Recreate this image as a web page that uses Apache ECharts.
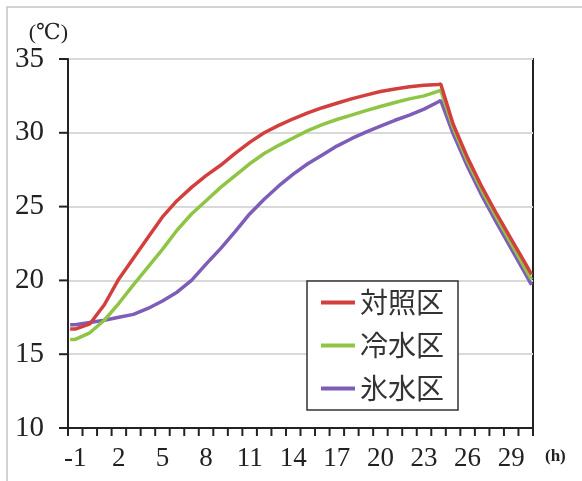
<!DOCTYPE html>
<html>
<head>
<meta charset="utf-8">
<title>水温の推移</title>
<script src="https://cdn.jsdelivr.net/npm/echarts@6/dist/echarts.min.js"></script>
<style>
  html, body { margin: 0; padding: 0; background: #fff; }
  #chart { width: 582px; height: 481px; }
</style>
</head>
<body>
<div id="chart"></div>
<script>
// カテゴリ（1時間刻み、-1〜30h）
const hourLabels = []
for (let h = -1; h <= 30; h++) hourLabels.push(String(h))
// 目盛線の位置（各時間の境界）
const xTickValues = []
for (let h = -1; h <= 31; h++) xTickValues.push(h - 0.5)
const yTickValues = [10, 15, 20, 25, 30, 35]

// 測定時刻 (h)
const hours = [-1.35, -1, 0, 1, 2, 3, 4, 5, 6, 7, 8, 9, 10, 11, 12, 13, 14, 15, 16, 17, 18, 19, 20, 21, 22, 23, 24, 24.15,
  25, 26, 27, 28, 29, 30, 30.4]

// 対照区
const controlTemp = [16.7, 16.7, 17.05, 18.35, 20.1, 21.5, 22.9, 24.3, 25.4, 26.3, 27.1, 27.8, 28.6, 29.35, 30.0, 30.5,
  30.95, 31.35, 31.7, 32.0, 32.3, 32.55, 32.8, 32.97, 33.12, 33.22, 33.28, 33.3,
  30.6, 28.3, 26.3, 24.5, 22.8, 21.1, 20.4]
// 冷水区
const coldTemp = [16.0, 16.0, 16.45, 17.3, 18.45, 19.7, 20.9, 22.1, 23.4, 24.5, 25.4, 26.3, 27.1, 27.9, 28.6, 29.15,
  29.65, 30.15, 30.55, 30.9, 31.2, 31.5, 31.78, 32.05, 32.3, 32.5, 32.82, 32.9,
  30.35, 28.05, 26.05, 24.25, 22.5, 20.75, 20.05]
// 氷水区
const iceTemp = [17.0, 17.0, 17.15, 17.3, 17.5, 17.7, 18.1, 18.6, 19.2, 20.0, 21.1, 22.15, 23.3, 24.5, 25.5, 26.4,
  27.2, 27.9, 28.5, 29.1, 29.6, 30.05, 30.45, 30.85, 31.2, 31.6, 32.1, 32.2,
  29.95, 27.7, 25.7, 23.9, 22.15, 20.4, 19.7]

const seriesNames = ['対照区', '冷水区', '氷水区']
const seriesColors = ['#d23f3c', '#8fc545', '#7d5db8']

function pairs(values) {
  return hours.map((h, i) => [h, values[i]])
}

const serifFont = '"Liberation Serif", "DejaVu Serif", serif'
const axisColor = '#222'
const myChart = echarts.init(document.getElementById('chart'))

// 目盛線（軸の外側に描く）
function tickSeries(values, isX) {
  return {
    type: 'custom',
    xAxisIndex: 1,
    yAxisIndex: 0,
    silent: true,
    clip: false,
    z: 5,
    data: values.map((v) => [v]),
    renderItem: function (params, api) {
      const v = api.value(0)
      const p = isX ? api.coord([v, 10]) : api.coord([-1.5, v])
      return {
        type: 'line',
        shape: isX
          ? { x1: p[0], y1: p[1], x2: p[0], y2: p[1] + 8 }
          : { x1: p[0] - 9, y1: p[1], x2: p[0], y2: p[1] },
        style: { stroke: axisColor, lineWidth: 2 }
      }
    }
  }
}

const lineSeries = [controlTemp, coldTemp, iceTemp].map((vals, i) => ({
  name: seriesNames[i],
  type: 'line',
  xAxisIndex: 1,
  yAxisIndex: 0,
  data: pairs(vals),
  symbol: 'none',
  z: 3 - i,
  lineStyle: { color: seriesColors[i], width: 3.5 },
  itemStyle: { color: seriesColors[i] }
}))

const option = {
  animation: false,
  backgroundColor: '#fff',
  graphic: [
    {
      type: 'rect',
      z: -10,
      shape: { x: 7, y: 7, width: 620, height: 520 },
      style: { fill: null, stroke: '#c4c4c4', lineWidth: 1.5 },
      silent: true
    }
  ],
  grid: {
    left: 68,
    top: 59,
    right: 49,
    bottom: 53,
    show: true,
    borderColor: axisColor,
    borderWidth: 2
  },
  legend: {
    orient: 'vertical',
    left: 307,
    top: 281,
    padding: [6, 14, 6, 14],
    itemWidth: 34,
    itemHeight: 4,
    itemGap: 12,
    borderColor: '#333',
    borderWidth: 1.5,
    backgroundColor: '#fff',
    textStyle: {
      fontFamily: '"Noto Sans CJK JP", sans-serif',
      fontSize: 28,
      lineHeight: 31,
      color: '#333'
    },
    data: seriesNames.map((n) => ({ name: n, icon: 'rect' }))
  },
  xAxis: [
    {
      type: 'category',
      position: 'bottom',
      data: hourLabels,
      boundaryGap: true,
      name: '(h)',
      nameLocation: 'end',
      nameGap: 12,
      nameTextStyle: {
        fontFamily: serifFont,
        fontSize: 17,
        fontWeight: 'bold',
        color: axisColor,
        verticalAlign: 'top',
        padding: [20, 0, 0, 0]
      },
      axisLine: { onZero: false, lineStyle: { color: axisColor, width: 2 } },
      axisTick: { show: false },
      axisLabel: {
        interval: 2,
        margin: 17,
        fontFamily: serifFont,
        fontSize: 27,
        color: axisColor
      },
      splitLine: { show: false }
    },
    {
      // データ用（時刻の値軸）
      type: 'value',
      position: 'top',
      min: -1.5,
      max: 30.5,
      show: false
    }
  ],
  yAxis: {
    type: 'value',
    min: 10,
    max: 35,
    interval: 5,
    name: '(℃)',
    nameLocation: 'end',
    nameGap: 12,
    nameTextStyle: {
      fontFamily: serifFont,
      fontSize: 22,
      color: axisColor,
      align: 'right'
    },
    axisLine: { show: true, onZero: false, lineStyle: { color: axisColor, width: 2 } },
    axisTick: { show: false },
    axisLabel: {
      margin: 24,
      fontFamily: serifFont,
      fontSize: 29,
      color: axisColor
    },
    splitLine: { show: true, lineStyle: { color: '#d9d9d9', width: 2 } }
  },
  series: lineSeries.concat([tickSeries(xTickValues, true), tickSeries(yTickValues, false)])
}

myChart.setOption(option)
</script>
</body>
</html>
